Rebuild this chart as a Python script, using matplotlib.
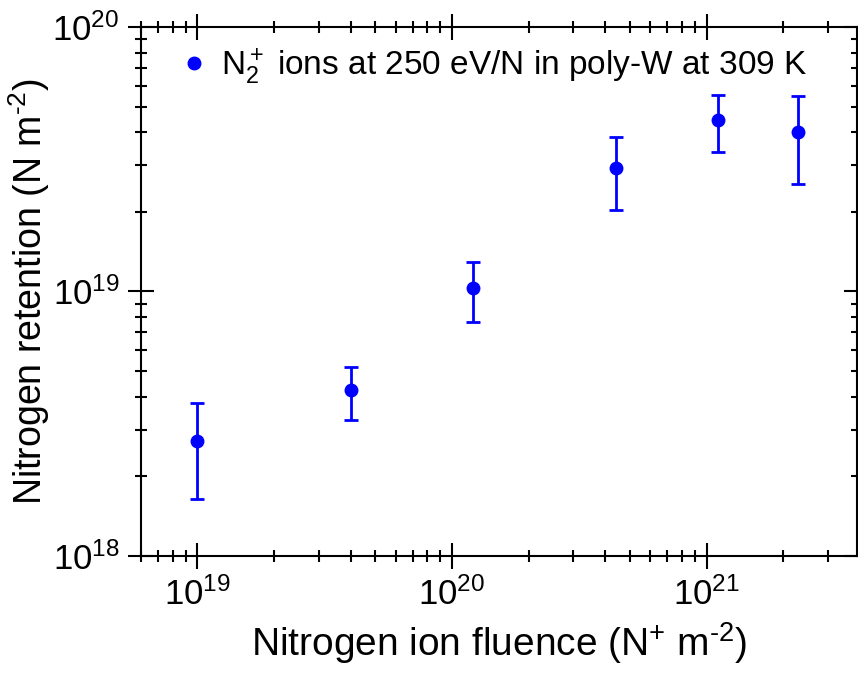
import matplotlib
matplotlib.use("Agg")
import matplotlib.pyplot as plt
from matplotlib.lines import Line2D
from matplotlib.ticker import LogLocator

plt.rcParams['font.family'] = ['Liberation Sans', 'DejaVu Sans']
plt.rcParams['mathtext.fontset'] = 'custom'
plt.rcParams['mathtext.rm'] = 'Liberation Sans'
plt.rcParams['mathtext.it'] = 'Liberation Sans:italic'
plt.rcParams['mathtext.bf'] = 'Liberation Sans:bold'

# Data
fluence = [1.0e19, 4.0e19, 1.21e20, 4.4e20, 1.11e21, 2.28e21]
retention = [2.71e18, 4.26e18, 1.03e19, 2.94e19, 4.43e19, 3.99e19]
err_upper = [3.78e18, 5.16e18, 1.29e19, 3.82e19, 5.51e19, 5.46e19]
err_lower = [1.64e18, 3.28e18, 7.7e18, 2.04e19, 3.36e19, 2.54e19]
legend_label = r'$\mathregular{N_2^+}$ ions at 250 eV/N in poly-W at 309 K'

yerr = [[r - lo for r, lo in zip(retention, err_lower)],
        [hi - r for r, hi in zip(retention, err_upper)]]

fig = plt.figure(figsize=(8.58, 6.73), dpi=100)
ax = fig.add_axes([0.1643, 0.1738, 0.8345, 0.7862])

ax.errorbar(fluence, retention, yerr=yerr, fmt='o', color='#0000ff',
            markersize=9, elinewidth=2, capsize=5, capthick=2)

ax.set_xscale('log')
ax.set_yscale('log')
ax.set_xlim(6e18, 3.9e21)
ax.set_ylim(1e18, 1e20)

ax.xaxis.set_minor_locator(LogLocator(base=10, subs=range(2, 10)))
ax.yaxis.set_minor_locator(LogLocator(base=10, subs=range(2, 10)))

ax.tick_params(which='both', direction='inout', top=True, right=True,
               labelsize=25, width=1.5)
ax.tick_params(which='major', length=19, pad=6)
ax.tick_params(which='minor', length=8, labelbottom=False, labelleft=False)
for s in ax.spines.values():
    s.set_linewidth(1.5)

ax.set_xlabel(r'Nitrogen ion fluence (N$^{+}$ m$^{\text{-2}}$)', fontsize=28, labelpad=6)
ax.set_ylabel(r'Nitrogen retention (N m$^{\text{-2}}$)', fontsize=27, labelpad=0)

handle = Line2D([], [], marker='o', linestyle='none', color='#0000ff', markersize=9)
ax.legend([handle], [legend_label], loc='upper left', frameon=False,
          fontsize=24, handletextpad=0.1, handlelength=1.4,
          bbox_to_anchor=(0.0, 1.02))

fig.savefig('out.png', dpi=100)
